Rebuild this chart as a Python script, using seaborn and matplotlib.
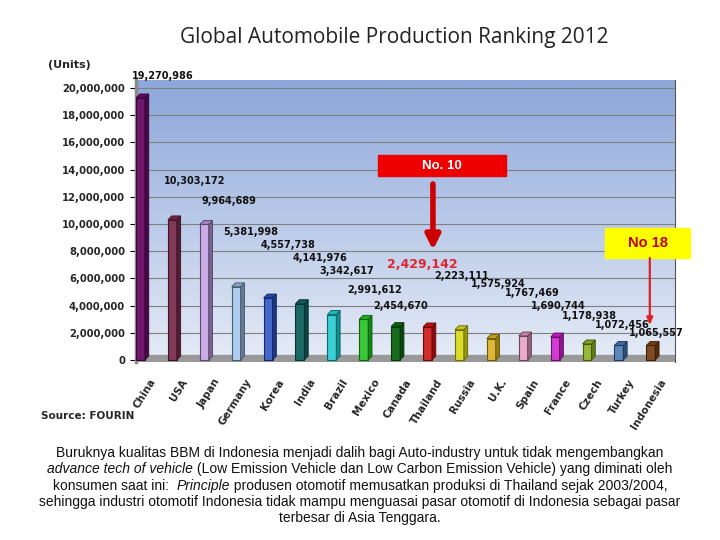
import numpy as np
import pandas as pd
import seaborn as sns
import matplotlib.pyplot as plt
import matplotlib.colors as mcolors
from matplotlib.patches import Polygon, Rectangle
from matplotlib.ticker import FuncFormatter
from matplotlib.transforms import ScaledTranslation

# data
countries = ['China', 'USA', 'Japan', 'Germany', 'Korea', 'India', 'Brazil', 'Mexico',
             'Canada', 'Thailand', 'Russia', 'U.K.', 'Spain', 'France', 'Czech',
             'Turkey', 'Indonesia']
units = [19270986, 10303172, 9964689, 5381998, 4557738, 4141976, 3342617, 2991612,
         2454670, 2429142, 2223111, 1575924, 1767469, 1690744, 1178938,
         1072456, 1065557]
bar_colors = ['#7A0A7A', '#8C2E55', '#C9A2F0', '#A4CCF7', '#2E5BDD', '#0F7570',
              '#20E8EE', '#22DD22', '#0A7A10', '#EE1111', '#F8F810', '#F8C818',
              '#F5A0CC', '#EE22EE', '#A0CC22', '#4C84CC', '#8E4A12']

# where each value label sits (bar index units, millions of units)
label_x = [0.71, 1.71, 2.78, 3.46, 4.62, 5.63, 6.47, 7.35, 8.17, 8.83, 10.08,
           11.21, 12.30, 13.09, 14.09, 15.12, 16.16]
label_y = [20.88, 13.16, 11.69, 9.41, 8.46, 7.50, 6.54, 5.15, 3.97, 6.99, 6.18,
           5.59, 4.93, 3.97, 3.24, 2.57, 1.99]

sns.set_theme(style='white')
plt.rcParams['font.family'] = ['DejaVu Sans']

fig = plt.figure(figsize=(7.2, 5.4), dpi=100)
ax = fig.add_axes([136 / 720, (540 - 362) / 540, 539 / 720, 282 / 540])

df = pd.DataFrame({'country': countries, 'units': units})
sns.barplot(data=df, x='country', y='units', hue='country', palette=bar_colors,
            legend=False, width=0.28, ax=ax, zorder=3, linewidth=0.8)

x_lo, x_hi = -0.14, 16.76
y_lo, y_hi = -0.15e6, 20.59e6
ax.set_xlim(x_lo, x_hi)
ax.set_ylim(y_lo, y_hi)

# gradient back wall
grad = np.linspace(0, 1, 256).reshape(-1, 1)
cmap = mcolors.LinearSegmentedColormap.from_list('wall', ['#E6ECF7', '#8DA7DA'])
ax.imshow(grad, extent=[x_lo, x_hi, y_lo, y_hi], origin='lower', aspect='auto',
          cmap=cmap, zorder=0)
# floor
ax.add_patch(Rectangle((x_lo, y_lo), x_hi - x_lo, 0.5e6, color='#999999', zorder=2))

# 3d faces on every bar
dx, dy = 0.12, 0.29e6
for p, c in zip(ax.patches[:len(countries)], bar_colors):
    x0 = p.get_x()
    x1 = x0 + p.get_width()
    h = p.get_height()
    base = np.array(mcolors.to_rgb(c))
    p.set_edgecolor(base * 0.45)
    ax.add_patch(Polygon([(x1, 0), (x1 + dx, dy), (x1 + dx, h + dy), (x1, h)],
                         closed=True, facecolor=base * 0.6, edgecolor=base * 0.4,
                         lw=0.6, zorder=3))
    ax.add_patch(Polygon([(x0, h), (x1, h), (x1 + dx, h + dy), (x0 + dx, h + dy)],
                         closed=True, facecolor=base * 0.8, edgecolor=base * 0.4,
                         lw=0.6, zorder=3))

ax.set_axisbelow(True)
ax.yaxis.grid(True, color='#808080', lw=0.8)
ax.set_yticks(np.arange(0, 20.1e6, 2e6))
ax.yaxis.set_major_formatter(FuncFormatter(lambda v, pos: f'{int(v):,}'))
ax.tick_params(axis='y', left=True, length=4, width=0.8, color='black', pad=4,
               labelsize=7.2)
for t in ax.get_yticklabels():
    t.set_fontweight('bold')
ax.set_xlabel('')
ax.set_ylabel('')

ax.tick_params(axis='x', bottom=False, pad=2)
ax.set_xticks(range(len(countries)))
ax.set_xticklabels(countries, rotation=58, ha='right', rotation_mode='anchor',
                   fontsize=7.5, fontweight='bold')
for t in ax.get_xticklabels():
    t.set_transform(t.get_transform() + ScaledTranslation(9 / 100, -4 / 100, fig.dpi_scale_trans))

for s in ['top', 'bottom']:
    ax.spines[s].set_visible(False)
ax.spines['left'].set_color('#8a8a8a')
ax.spines['left'].set_linewidth(2.5)
ax.spines['right'].set_color('#555555')
ax.spines['right'].set_linewidth(0.8)

# value labels
for i, v in enumerate(units):
    if countries[i] == 'Thailand':
        ax.text(label_x[i], label_y[i] * 1e6, f'{v:,}', color='#E0262E', fontsize=9,
                fontweight='bold', ha='center', va='center', zorder=5)
    else:
        ax.text(label_x[i], label_y[i] * 1e6, f'{v:,}', color='#111111', fontsize=7,
                fontweight='bold', ha='center', va='center', zorder=5)

# No. 10 callout
ax.add_patch(Rectangle((7.45, 13.53e6), 4.01, 1.54e6, color='#EE0000', zorder=6))
ax.text(9.45, 14.3e6, 'No. 10', color='white', fontsize=9.5, fontweight='bold',
        ha='center', va='center', family='Liberation Sans', zorder=7)
ax.annotate('', xy=(9.17, 8.09e6), xytext=(9.17, 12.94e6), zorder=7,
            arrowprops=dict(arrowstyle='-|>,head_width=0.35,head_length=0.7',
                            lw=4, color='#CC0000', shrinkA=0, shrinkB=0))

# No 18 callout
ax.add_patch(Rectangle((14.56, 7.5e6), 2.67, 2.21e6, color='#FFFF00', zorder=6,
                       clip_on=False))
ax.text(15.9, 8.6e6, 'No 18', color='#C00000', fontsize=10.5, fontweight='bold',
        ha='center', va='center', family='Liberation Sans', zorder=7)
ax.annotate('', xy=(15.97, 2.57e6), xytext=(15.97, 7.5e6), zorder=7,
            arrowprops=dict(arrowstyle='-|>,head_width=0.15,head_length=0.35',
                            lw=1.6, color='#E02020', shrinkA=0, shrinkB=0))

fig.text(394 / 720, 1 - 37 / 540, 'Global Automobile Production Ranking 2012',
         fontsize=15, family='Open Sans', color='#222222', ha='center', va='center')
fig.text(48 / 720, 1 - 65 / 540, '(Units)', fontsize=8, fontweight='bold',
         ha='left', va='center')
fig.text(41 / 720, 1 - 416 / 540, 'Source: FOURIN', fontsize=7.5, fontweight='bold',
         ha='left', va='center')

# bottom paragraph with italic pieces
para = [
    [('Buruknya kualitas BBM di Indonesia menjadi dalih bagi Auto-industry untuk tidak mengembangkan', 'normal')],
    [('advance tech of vehicle', 'italic'),
     (' (Low Emission Vehicle dan Low Carbon Emission Vehicle) yang diminati oleh', 'normal')],
    [('konsumen saat ini:  ', 'normal'), ('Principle', 'italic'),
     (' produsen otomotif memusatkan produksi di Thailand sejak 2003/2004,', 'normal')],
    [('sehingga industri otomotif Indonesia tidak mampu menguasai pasar otomotif di Indonesia sebagai pasar', 'normal')],
    [('terbesar di Asia Tenggara.', 'normal')],
]
line_y = [453, 469, 486, 502, 518]
renderer = fig.canvas.get_renderer()
for parts, py in zip(para, line_y):
    texts = [fig.text(0, 1 - py / 540, s, style=st, fontsize=10, family='Liberation Sans',
                      color='#111111', va='center', ha='left') for s, st in parts]
    widths = [t.get_window_extent(renderer).width for t in texts]
    x = (720 - sum(widths)) / 2
    for t, w in zip(texts, widths):
        t.set_x(x / 720)
        x += w

fig.savefig('out.png', dpi=100)
